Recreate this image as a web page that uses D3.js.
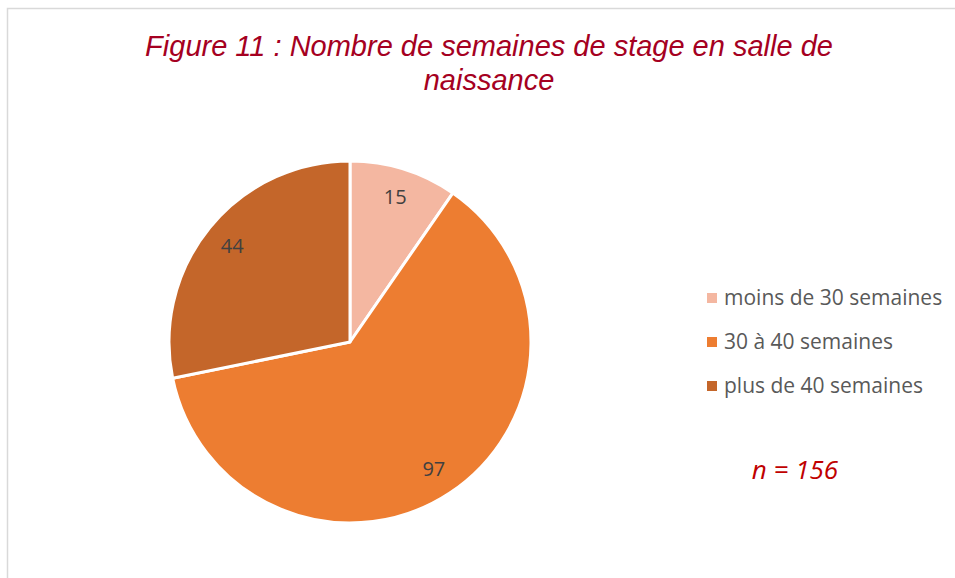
<!DOCTYPE html>
<html>
<head>
<meta charset="utf-8">
<script src="https://cdn.jsdelivr.net/npm/d3@7"></script>
<style>
  body { margin: 0; background: #fff; }
</style>
</head>
<body>
<script>
var width = 955, height = 578;

var categories = ["moins de 30 semaines", "30 à 40 semaines", "plus de 40 semaines"];
var values = [15, 97, 44];
var colors = ["#F4B7A1", "#ED7D31", "#C4662A"];
var titleLines = ["Figure 11 : Nombre de semaines de stage en salle de", "naissance"];
var note = "n = 156";

var svg = d3.select("body").append("svg")
  .attr("width", width)
  .attr("height", height);

// chart frame
svg.append("rect")
  .attr("x", 7.5).attr("y", 8.5)
  .attr("width", 1000).attr("height", 600)
  .attr("fill", "none")
  .attr("stroke", "#D9D9D9")
  .attr("stroke-width", 1.5);

svg.selectAll("text.title").data(titleLines).enter()
  .append("text")
  .attr("class", "title")
  .attr("x", 489)
  .attr("y", function (d, i){ return 56 + i * 34; })
  .attr("text-anchor", "middle")
  .attr("font-family", "Liberation Sans, Arial, sans-serif")
  .attr("font-style", "italic")
  .attr("font-size", 29)
  .attr("fill", "#A50021")
  .text(function (d){ return d; });

var cx = 350, cy = 342, r = 181;

var pie = d3.pie().sort(null).value(function (d){ return d; });
var arc = d3.arc().innerRadius(0).outerRadius(r);
var labelArc = d3.arc().innerRadius(r * 0.84).outerRadius(r * 0.84);

var g = svg.append("g")
  .attr("transform", "translate(" + cx + "," + cy + ")");

var arcs = pie(values);

g.selectAll("path").data(arcs).enter()
  .append("path")
  .attr("d", arc)
  .attr("fill", function (d, i){ return colors[i]; })
  .attr("stroke", "#fff")
  .attr("stroke-width", 3)
  .attr("stroke-linejoin", "round");

g.selectAll("text").data(arcs).enter()
  .append("text")
  .attr("transform", function (d){ return "translate(" + labelArc.centroid(d) + ")"; })
  .attr("text-anchor", "middle")
  .attr("dy", "0.35em")
  .attr("font-family", "Open Sans, sans-serif")
  .attr("font-size", 20)
  .attr("fill", "#404040")
  .text(function (d){ return d.data; });

var legend = svg.append("g").attr("transform", "translate(707,298)");
var item = legend.selectAll("g").data(categories).enter()
  .append("g")
  .attr("transform", function (d, i){ return "translate(0," + (i * 44) + ")"; });

item.append("rect")
  .attr("x", 0).attr("y", -5)
  .attr("width", 10).attr("height", 10)
  .attr("fill", function (d, i){ return colors[i]; });

item.append("text")
  .attr("x", 17)
  .attr("dy", "0.35em")
  .attr("font-family", "Open Sans, sans-serif")
  .attr("font-size", 21)
  .attr("fill", "#595959")
  .text(function (d){ return d; });

svg.append("text")
  .attr("x", 795).attr("y", 479)
  .attr("text-anchor", "middle")
  .attr("font-family", "Open Sans, sans-serif")
  .attr("font-style", "italic")
  .attr("font-size", 26)
  .attr("fill", "#C00000")
  .text(note);
</script>
</body>
</html>
